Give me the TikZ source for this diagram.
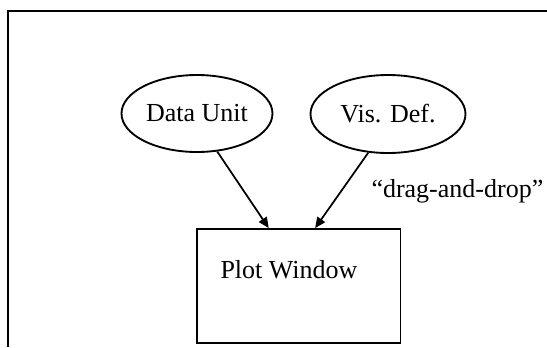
\documentclass[tikz,border=0pt]{standalone}
\usepackage{fontspec}
\setmainfont{Liberation Serif}
\usetikzlibrary{shapes.geometric,arrows.meta,calc}

\tikzset{every picture/.style={line width=0.75pt}}
\tikzset{
  unitshape/.style={draw, ellipse, line width=1.4pt, inner sep=0pt, font=\fontsize{19.5}{23}\selectfont},
  winbox/.style={draw, rectangle, line width=1.4pt, minimum width=152.6pt, minimum height=85.5pt},
  plaintext/.style={inner sep=0pt, font=\fontsize{19.5}{23}\selectfont},
  feed/.style={line width=1.3pt, -{Triangle[length=8pt,width=7pt]}}
}

\begin{document}
\begin{tikzpicture}[x=0.75pt,y=0.75pt,yscale=-1,xscale=1]
\useasboundingbox (0,0) rectangle (547,347);

%Straight Lines [frame, cut at the page edge]
\draw [line width=1.8pt] (547,11) -- (8,11) -- (8,347) ;

%Shape: Ellipse [data unit]
\node [unitshape, minimum width=113.25pt, minimum height=57.75pt] (dataunit) at (197,113.5) {Data Unit};
%Shape: Ellipse [vis def]
\node [unitshape, minimum width=116.25pt, minimum height=58.5pt] (visdef) at (388,114) {Vis. Def.};

%Shape: Rectangle [plot window]
\node [winbox] (plotwin) at (298.7,286) {};
% Text Node
\node [plaintext, anchor=base west] (plotwintext) at (220,278) {Plot Window};

%Straight Lines [arrows into the window]
\coordinate (dropa) at ($(plotwin.north west)!0.354!(plotwin.north east)$);
\coordinate (dropb) at ($(plotwin.north west)!0.58!(plotwin.north east)$);
\draw [feed] (dataunit.-62) -- (dropa) ;
\draw [feed] (visdef.-117) -- (dropb) ;

% Text Node
\node [plaintext, anchor=base west] (dragdrop) at (371,197) {“drag-and-drop”};

\end{tikzpicture}
\end{document}
